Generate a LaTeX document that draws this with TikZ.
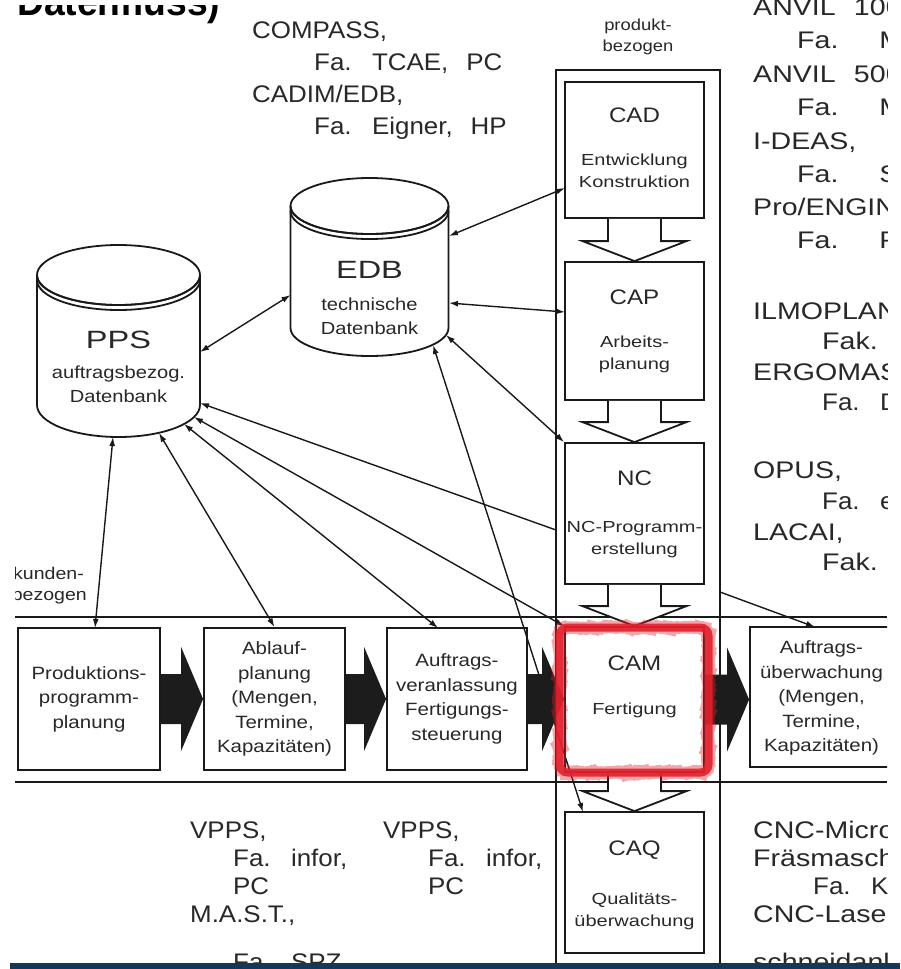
\documentclass[tikz,border=0pt]{standalone}
\usepackage{fontspec}
\setmainfont{Liberation Sans}
\newfontfamily\listfont{Liberation Sans}[FakeStretch=1.08,WordSpace=2.5]
\newfontfamily\listwide{Liberation Sans}[FakeStretch=1.19,WordSpace=2.3]
\newfontfamily\boxfont{Liberation Sans}[FakeStretch=1.15]
\newfontfamily\subfont{Liberation Sans}[FakeStretch=1.25]
\newfontfamily\dbfont{Liberation Sans}[FakeStretch=1.3]
\usetikzlibrary{arrows.meta,calc,decorations.pathmorphing}
\definecolor{ink}{RGB}{25,25,25}
\definecolor{txt}{RGB}{40,40,40}
\definecolor{hilite}{RGB}{226,32,44}
\definecolor{barblue}{RGB}{20,56,90}
\definecolor{procfill}{RGB}{28,28,28}

\newcommand{\procarr}[2]{%
  \path (#1.east) coordinate (pa) (#2.west |- #1.east) coordinate (pb);
  \fill[procfill] ($(pa)+(0,-25)$) -- ($(pb)+(-22,-25)$) -- ($(pb)+(-22,-52)$) -- (pb)
     -- ($(pb)+(-22,52)$) -- ($(pb)+(-22,25)$) -- ($(pa)+(0,25)$) -- cycle;}
\newcommand{\hollowarr}[2]{%
  \path (#1.south) coordinate (ha) (#2.north) coordinate (hb);
  \filldraw[boxline,fill=white] ($(ha)+(-26.5,0)$) -- ($(hb)+(-26.5,-20)$) -- ($(hb)+(-52,-20)$)
     -- (hb) -- ($(hb)+(52,-20)$) -- ($(hb)+(26.5,-20)$) -- ($(ha)+(26.5,0)$);}

\begin{document}
\begin{tikzpicture}[x=1pt,y=-1pt,
  boxline/.style={draw=ink,line width=1.8pt},
  boxnode/.style={draw=ink,line width=1.8pt,fill=white,inner sep=0pt,align=center,text=txt},
  procfont/.style={font=\boxfont\fontsize{17.8}{24.5}\selectfont},
  connline/.style={draw=ink,line width=1.4pt,>={Latex[length=9pt,width=6pt]}},
  listtext/.style={anchor=west,inner sep=0pt,text=txt,text height=17pt,text depth=0pt,
                   font=\listfont\fontsize{24}{28}\selectfont},
  widetext/.style={listtext,font=\listwide\fontsize{24}{28}\selectfont},
  coltitle/.style={inner sep=0pt,text=txt,text height=15pt,text depth=0pt,
                   font=\boxfont\fontsize{21}{24}\selectfont},
  colsub/.style={inner sep=0pt,text=txt,align=center,font=\subfont\fontsize{16}{22}\selectfont},
  dbtitle/.style={inner sep=0pt,text=txt,text height=18pt,text depth=0pt,
                   font=\dbfont\fontsize{25}{28}\selectfont},
  dbsub/.style={inner sep=0pt,text=txt,align=center,font=\boxfont\fontsize{17.5}{23.5}\selectfont}]
\useasboundingbox (0,0) rectangle (900,969);
\fill[white] (0,0) rectangle (900,969);

\begin{scope}
\clip (15,0) rectangle (887,969);

% title fragment
\begin{scope}
\clip (15,5) rectangle (240,40);
\node[anchor=base west,inner sep=0pt,font=\bfseries\fontsize{40}{42}\selectfont] (ttl) at (17,15)
  {\resizebox{203pt}{\height}{Datenfluss)}};
\end{scope}

% band lines and column frame
\draw[boxline] (15,617) -- (887,617);
\draw[boxline] (15,782) -- (887,782);
\draw[boxline] (556,980) -- (556,70) -- (720,70) -- (720,980);

% cylinders
\filldraw[boxline,fill=white] (37,275) -- (37,405) arc[start angle=180,end angle=0,x radius=81.5,y radius=32]
   -- (200,275) arc[start angle=0,end angle=180,x radius=81.5,y radius=30] -- cycle;
\draw[boxline] (118.5,275) ellipse[x radius=81.5,y radius=30];
\draw[boxline] (37,280) arc[start angle=180,end angle=0,x radius=81.5,y radius=30];
\filldraw[boxline,fill=white] (290.5,206) -- (290.5,328) arc[start angle=180,end angle=0,x radius=79,y radius=28]
   -- (448.5,206) arc[start angle=0,end angle=180,x radius=79,y radius=28] -- cycle;
\draw[boxline] (369.5,206) ellipse[x radius=79,y radius=28];
\draw[boxline] (290.5,211) arc[start angle=180,end angle=0,x radius=79,y radius=28];

\node[dbtitle] (ppsT) at (118.5,339) {PPS};
\node[dbsub] (ppsS) at (118.5,384) {auftragsbezog.\\Datenbank};
\node[dbtitle] (edbT) at (369.5,269) {EDB};
\node[dbsub] (edbS) at (369.5,316) {technische\\Datenbank};

% connection points on the data bases
\coordinate (ppsE) at (200,352);
\coordinate (edbW) at (290.5,295);
\coordinate (edbA) at (449,236);
\coordinate (edbB) at (449,303);
\coordinate (edbC) at (446,335);
\coordinate (edbD) at (433,345);
\coordinate (pps1) at (113,437);
\coordinate (pps2) at (159,433);
\coordinate (pps3) at (184,424);
\coordinate (pps4) at (194,417);
\coordinate (pps5) at (200,403);

% column boxes
\node[boxnode,minimum width=139pt,minimum height=136pt] (cad) at (634.5,150) {};
\node[boxnode,minimum width=139pt,minimum height=138pt] (cap) at (634.5,331) {};
\node[boxnode,minimum width=139pt,minimum height=141pt] (nc) at (634.5,513.5) {};
\node[boxnode,minimum width=139pt,minimum height=141pt] (caq) at (634.5,882.5) {};

% process boxes
\node[boxnode,procfont,minimum width=142pt,minimum height=142pt] (p1) at (89,699)
  {Produktions-\\programm-\\planung};
\node[boxnode,procfont,minimum width=141pt,minimum height=142pt] (p2) at (274.5,699)
  {Ablauf-\\planung\\(Mengen,\\Termine,\\Kapazitäten)};
\node[boxnode,procfont,minimum width=140pt,minimum height=142pt] (p3) at (457,699)
  {Auftrags-\\veranlassung\\Fertigungs-\\steuerung};
\node[boxnode,minimum width=139pt,minimum height=145pt] (cam) at (634.5,699.5) {};
\node[boxnode,minimum width=150pt,minimum height=140pt] (p5) at (825,697) {};
\node[procfont,inner sep=0pt,align=center,text=txt] (p5t) at (821.5,698)
  {Auftrags-\\überwachung\\(Mengen,\\Termine,\\Kapazitäten)};

% connectors
\coordinate (cadW) at (565,188);
\coordinate (capW) at (565,312);
\coordinate (caqN) at (583,812);
\coordinate (p1N) at (95,628);
\coordinate (p3N) at (438,628);
\coordinate (colNC) at (556,530);
\coordinate (colE) at (720,592);
\coordinate (p5N) at (815,627);
\draw[connline,<->] (ppsE) -- (edbW);
\draw[connline,<->] (edbA) -- (cadW);
\draw[connline,<->] (edbB) -- (capW);
\draw[connline,<->] (edbC) -- (nc.north west);
\draw[connline,<->] (edbD) -- (caqN);
\draw[connline,<->] (pps1) -- (p1N);
\draw[connline,<->] (pps2) -- (p2.north);
\draw[connline,<->] (pps3) -- (p3N);
\draw[connline,<->] (pps4) -- (cam.north west);
\draw[connline,<-] (pps5) -- (colNC);
\draw[connline,->] (colE) -- (p5N);

% hollow arrows in the column
\hollowarr{cad}{cap}
\hollowarr{cap}{nc}
\hollowarr{nc}{cam}
\hollowarr{cam}{caq}

% black process arrows
\procarr{p1}{p2}
\procarr{p2}{p3}
\procarr{p3}{cam}
\procarr{cam}{p5}

% red highlight (hand-drawn look)
\draw[hilite,line width=12pt,rounded corners=9pt,opacity=0.4,
      decorate,decoration={random steps,segment length=4pt,amplitude=1.2pt}] (559.5,627.5) rectangle (708.5,772.5);
\draw[hilite,line width=8pt,rounded corners=8pt,opacity=0.9] (559.5,627.5) rectangle (708.5,772.5);

% column texts
\node[coltitle] (cadT) at (634.5,115) {CAD};
\node[colsub] (cadS) at (634.5,171) {Entwicklung\\Konstruktion};
\node[coltitle] (capT) at (634.5,297) {CAP};
\node[colsub] (capS) at (634.5,354) {Arbeits-\\planung};
\node[coltitle] (ncT) at (634.5,478) {NC};
\node[colsub] (ncS) at (634.5,540) {NC-Programm-\\erstellung};
\node[coltitle] (camT) at (634.5,663) {CAM};
\node[colsub] (camS) at (634.5,710) {Fertigung};
\node[coltitle] (caqT) at (634.5,848) {CAQ};
\node[colsub] (caqS) at (634.5,911) {Qualitäts-\\überwachung};

\node[inner sep=0pt,align=center,text=txt,font=\boxfont\fontsize{16}{21}\selectfont] (prodbez) at (638,37) {produkt-\\bezogen};
\node[anchor=east,inner sep=0pt,text=txt,font=\boxfont\fontsize{17}{21}\selectfont] (kund1) at (84,573) {kunden-};
\node[anchor=east,inner sep=0pt,text=txt,font=\boxfont\fontsize{17}{21}\selectfont] (kund2) at (87,596) {bezogen};

% lists
\node[listtext] (t1) at (252,30) {COMPASS,};
\node[listtext] (t2) at (314,62) {Fa. TCAE, PC};
\node[listtext] (t3) at (252,94) {CADIM/EDB,};
\node[listtext] (t4) at (314,126) {Fa. Eigner, HP};

\node[widetext] (r1) at (753,7) {ANVIL 1000,};
\node[widetext] (r2) at (797,40) {Fa.\hspace{20pt} MCS};
\node[widetext] (r3) at (753,74) {ANVIL 5000,};
\node[widetext] (r4) at (797,107) {Fa.\hspace{20pt} MCS};
\node[widetext] (r5) at (753,141) {I-DEAS,};
\node[widetext] (r6) at (797,174) {Fa.\hspace{20pt} SDRC};
\node[widetext] (r7) at (753,207) {Pro/ENGINEER,};
\node[widetext] (r8) at (797,240) {Fa.\hspace{20pt} PTC};
\node[widetext] (r9) at (753,311) {ILMOPLAN,};
\node[widetext] (r10) at (822,341) {Fak.};
\node[widetext] (r11) at (753,372) {ERGOMAS,};
\node[listtext] (r12) at (822,402) {Fa. D};
\node[widetext] (r13) at (753,470) {OPUS,};
\node[listtext] (r14) at (822,501) {Fa. e};
\node[widetext] (r15) at (753,532) {LACAI,};
\node[widetext] (r16) at (822,562) {Fak.};

\node[widetext] (b1) at (753,830) {CNC-Micro-};
\node[widetext] (b2) at (753,858) {Fräsmaschine,};
\node[listtext] (b3) at (813,886) {Fa. K};
\node[widetext] (b4) at (753,914) {CNC-Laser-};
\node[widetext] (b5) at (753,962) {schneidanlage};

\node[listtext] (v1) at (190,830) {VPPS,};
\node[listtext] (v2) at (233,858) {Fa. infor,};
\node[listtext] (v3) at (233,886) {PC};
\node[listtext] (v4) at (190,914) {M.A.S.T.,};
\node[listtext] (v5) at (233,962) {Fa. SPZ};
\node[listtext] (w1) at (383,830) {VPPS,};
\node[listtext] (w2) at (428,858) {Fa. infor,};
\node[listtext] (w3) at (428,886) {PC};
\end{scope}

\fill[barblue] (10,963) rectangle (900,969);
\end{tikzpicture}
\end{document}
